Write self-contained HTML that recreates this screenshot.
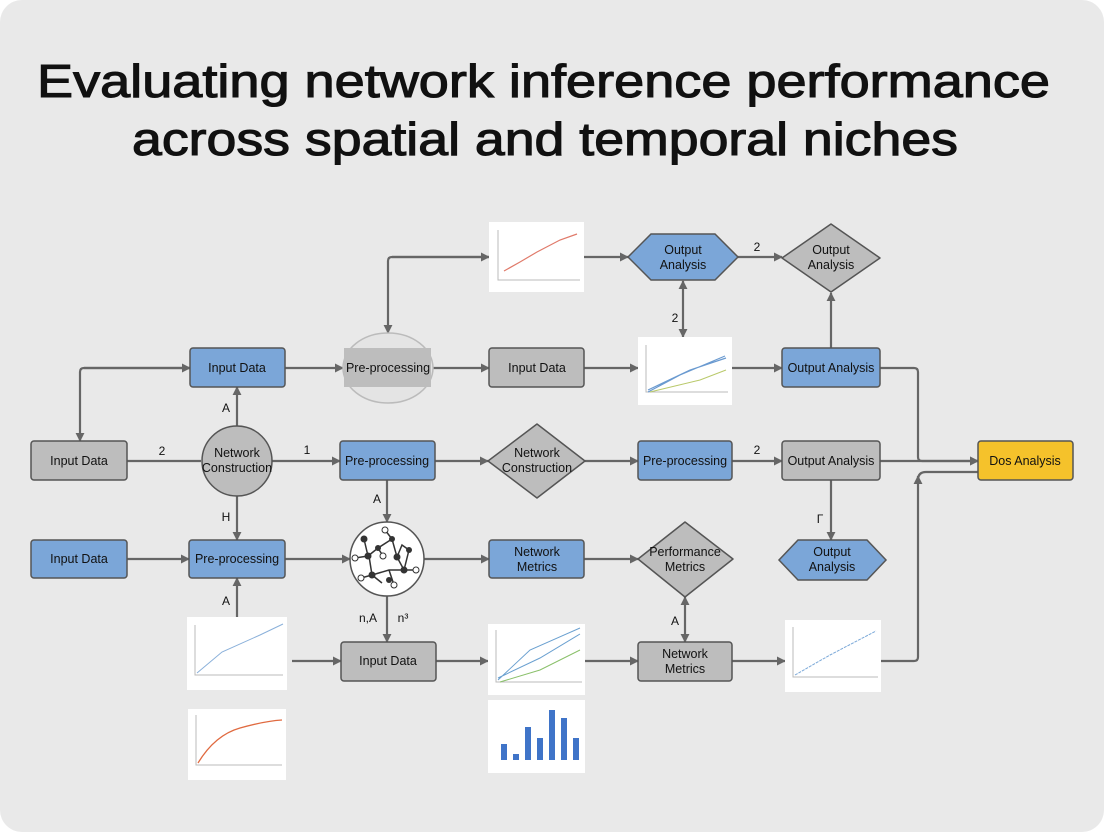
<!DOCTYPE html>
<html><head><meta charset="utf-8"><style>
html,body{margin:0;padding:0;background:#fff;}
svg{display:block;}
text{font-family:"Liberation Sans",sans-serif;}
</style></head><body>
<svg width="1104" height="832" viewBox="0 0 1104 832" xmlns="http://www.w3.org/2000/svg">
<defs>
<marker id="a" viewBox="0 0 10 10" refX="9" refY="5" markerWidth="9" markerHeight="9" markerUnits="userSpaceOnUse" orient="auto-start-reverse"><path d="M0,0L10,5L0,10z" fill="#666"/></marker>
</defs>
<rect x="0" y="0" width="1104" height="832" rx="22" fill="#e9e9e9"/>
<text x="37" y="97" font-size="46" fill="#111" stroke="#111" stroke-width="1.1" textLength="1013" lengthAdjust="spacingAndGlyphs">Evaluating network inference performance</text>
<text x="132" y="155" font-size="46" fill="#111" stroke="#111" stroke-width="1.1" textLength="826" lengthAdjust="spacingAndGlyphs">across spatial and temporal niches</text>

<g stroke="#666" stroke-width="2.2" fill="none">
<path d="M190,368H84Q80,368 80,372V441" marker-end="url(#a)"/>
<path d="M84,368H190" marker-end="url(#a)"/>
<path d="M127,461H201"/>
<path d="M272,461H340" marker-end="url(#a)"/>
<path d="M237,426V387" marker-end="url(#a)"/>
<path d="M237,496V540" marker-end="url(#a)"/>
<path d="M285,368H343" marker-end="url(#a)"/>
<path d="M431,368H489" marker-end="url(#a)"/>
<path d="M489,257H392Q388,257 388,261V333" marker-end="url(#a)"/>
<path d="M392,257H489" marker-end="url(#a)"/>
<path d="M584,368H638" marker-end="url(#a)"/>
<path d="M732,368H782" marker-end="url(#a)"/>
<path d="M831,348V293" marker-end="url(#a)"/>
<path d="M880,368H914Q918,368 918,372V457Q918,461 922,461H978" marker-end="url(#a)"/>
<path d="M584,257H628" marker-end="url(#a)"/>
<path d="M738,257H782" marker-end="url(#a)"/>
<path d="M683,281V337" marker-start="url(#a)" marker-end="url(#a)"/>
<path d="M435,461H488" marker-end="url(#a)"/>
<path d="M585,461H638" marker-end="url(#a)"/>
<path d="M732,461H782" marker-end="url(#a)"/>
<path d="M880,461H978" marker-end="url(#a)"/>
<path d="M831,480V540" marker-end="url(#a)"/>
<path d="M387,480V522" marker-end="url(#a)"/>
<path d="M127,559H189" marker-end="url(#a)"/>
<path d="M285,559H350" marker-end="url(#a)"/>
<path d="M424,559H489" marker-end="url(#a)"/>
<path d="M584,559H638" marker-end="url(#a)"/>
<path d="M237,617V578" marker-end="url(#a)"/>
<path d="M387,596V642" marker-end="url(#a)"/>
<path d="M292,661H341" marker-end="url(#a)"/>
<path d="M436,661H488" marker-end="url(#a)"/>
<path d="M585,661H638" marker-end="url(#a)"/>
<path d="M685,642V597" marker-start="url(#a)" marker-end="url(#a)"/>
<path d="M732,661H785" marker-end="url(#a)"/>
<path d="M881,661H914Q918,661 918,657V476" marker-end="url(#a)"/>
<path d="M918,480Q918,472 926,472H978"/>
</g>

<g font-size="12" fill="#111" text-anchor="middle">
<text x="162" y="455">2</text><text x="307" y="454">1</text>
<text x="226" y="412">A</text><text x="226" y="521">H</text>
<text x="757" y="251">2</text><text x="675" y="322">2</text>
<text x="757" y="454">2</text><text x="820" y="523">Γ</text>
<text x="377" y="503">A</text><text x="226" y="605">A</text>
<text x="368" y="622">n,A</text><text x="403" y="622">n³</text>
<text x="675" y="625">A</text>
</g>

<g stroke="#555" stroke-width="1.5">
<rect x="190" y="348" width="95" height="39" rx="3" fill="#7ba6d8"/>
<rect x="489" y="348" width="95" height="39" rx="3" fill="#bdbdbd"/>
<rect x="782" y="348" width="98" height="39" rx="3" fill="#7ba6d8"/>
<rect x="31" y="441" width="96" height="39" rx="3" fill="#bdbdbd"/>
<circle cx="237" cy="461" r="35" fill="#bdbdbd"/>
<rect x="340" y="441" width="95" height="39" rx="3" fill="#7ba6d8"/>
<path d="M537,424L585,461L537,498L488,461Z" fill="#bdbdbd" stroke-linejoin="round"/>
<rect x="638" y="441" width="94" height="39" rx="3" fill="#7ba6d8"/>
<rect x="782" y="441" width="98" height="39" rx="3" fill="#bdbdbd"/>
<rect x="978" y="441" width="95" height="39" rx="3" fill="#f5c22b"/>
<rect x="31" y="540" width="96" height="38" rx="3" fill="#7ba6d8"/>
<rect x="189" y="540" width="96" height="38" rx="3" fill="#7ba6d8"/>
<rect x="489" y="540" width="95" height="38" rx="3" fill="#7ba6d8"/>
<path d="M685,522L733,559L685,597L638,559Z" fill="#bdbdbd" stroke-linejoin="round"/>
<path d="M798,540H867L886,560L867,580H798L779,560Z" fill="#7ba6d8"/>
<path d="M651,234H715L738,257L715,280H651L628,257Z" fill="#7ba6d8"/>
<path d="M831,224L880,258L831,292L782,258Z" fill="#bdbdbd" stroke-linejoin="round"/>
<rect x="341" y="642" width="95" height="39" rx="3" fill="#bdbdbd"/>
<rect x="638" y="642" width="94" height="39" rx="3" fill="#bdbdbd"/>
</g>
<ellipse cx="388" cy="368" rx="45" ry="35" fill="#e4e4e4" stroke="#bbb" stroke-width="1.5"/>
<rect x="344" y="348" width="87" height="39" fill="#bdbdbd"/>
<circle cx="387" cy="559" r="37" fill="#fff" stroke="#555" stroke-width="1.5"/>
<g stroke="#333" stroke-width="1.5" fill="none">
<path d="M364,539L368,556L378,548L392,539L397,557L402,545L409,550L404,570L389,570L372,575L369,556M397,557L404,570M372,575L382,583M389,570L394,585M378,548L383,556M368,556L355,558M392,539L385,530M404,570L416,570M372,575L361,578"/>
</g>
<g fill="#333"><circle cx="364" cy="539" r="3.5"/><circle cx="368" cy="556" r="3.5"/><circle cx="378" cy="548" r="3"/><circle cx="392" cy="539" r="3"/><circle cx="397" cy="557" r="3.5"/><circle cx="409" cy="550" r="3"/><circle cx="404" cy="570" r="3.5"/><circle cx="372" cy="575" r="3.5"/><circle cx="389" cy="580" r="3"/></g>
<g fill="#fff" stroke="#333"><circle cx="355" cy="558" r="3"/><circle cx="383" cy="556" r="3"/><circle cx="385" cy="530" r="3"/><circle cx="361" cy="578" r="3"/><circle cx="394" cy="585" r="3"/><circle cx="416" cy="570" r="3"/></g>

<g font-size="12.5" fill="#111" text-anchor="middle">
<text x="237" y="372">Input Data</text>
<text x="388" y="372">Pre-processing</text>
<text x="537" y="372">Input Data</text>
<text x="831" y="372">Output Analysis</text>
<text x="79" y="465">Input Data</text>
<text x="237" y="457">Network</text><text x="237" y="472">Construction</text>
<text x="387" y="465">Pre-processing</text>
<text x="537" y="457">Network</text><text x="537" y="472">Construction</text>
<text x="685" y="465">Pre-processing</text>
<text x="831" y="465">Output Analysis</text>
<text x="1025" y="465">Dos Analysis</text>
<text x="79" y="563">Input Data</text>
<text x="237" y="563">Pre-processing</text>
<text x="537" y="556">Network</text><text x="537" y="571">Metrics</text>
<text x="685" y="556">Performance</text><text x="685" y="571">Metrics</text>
<text x="832" y="556">Output</text><text x="832" y="571">Analysis</text>
<text x="683" y="254">Output</text><text x="683" y="269">Analysis</text>
<text x="831" y="254">Output</text><text x="831" y="269">Analysis</text>
<text x="388" y="665">Input Data</text>
<text x="685" y="658">Network</text><text x="685" y="673">Metrics</text>
</g>

<g>
<rect x="489" y="222" width="95" height="70" fill="#fff"/>
<path d="M498,230V280H580" stroke="#bbb" fill="none"/>
<path d="M504,271L520,262L537,252L560,240L577,234" stroke="#e07a6a" fill="none" stroke-width="1.2"/>
<rect x="638" y="337" width="94" height="68" fill="#fff"/>
<path d="M646,345V392H728" stroke="#bbb" fill="none"/>
<path d="M648,392L680,375L725,356M648,390L690,370L726,358" stroke-width="1.2" fill="none" stroke="#6a9ad0"/>
<path d="M650,392L700,380L726,370" stroke="#b9c96a" fill="none"/>
<rect x="187" y="617" width="100" height="73" fill="#fff"/>
<path d="M195,625V675H283" stroke="#bbb" fill="none"/><path d="M197,673L222,652L260,635L283,624" stroke="#8ab0da" fill="none"/>
<rect x="188" y="709" width="98" height="71" fill="#fff"/>
<path d="M196,715V765H282" stroke="#bbb" fill="none"/><path d="M198,763Q215,735 240,728T282,720" stroke="#e06a40" fill="none" stroke-width="1.3"/>
<rect x="488" y="624" width="97" height="71" fill="#fff"/>
<path d="M496,630V682H582" stroke="#bbb" fill="none"/>
<path d="M498,680L530,650L580,628M498,678L540,658L580,634" stroke="#6aa0d0" fill="none"/>
<path d="M500,682L540,670L580,650" stroke="#8ac06a" fill="none"/>
<rect x="488" y="700" width="97" height="73" fill="#fff"/>
<g fill="#3f74c8"><rect x="501" y="744" width="6" height="16"/><rect x="513" y="754" width="6" height="6"/><rect x="525" y="727" width="6" height="33"/><rect x="537" y="738" width="6" height="22"/><rect x="549" y="710" width="6" height="50"/><rect x="561" y="718" width="6" height="42"/><rect x="573" y="738" width="6" height="22"/></g>
<rect x="785" y="620" width="96" height="72" fill="#fff"/>
<path d="M793,627V677H878" stroke="#bbb" fill="none"/><path d="M795,675L830,655L876,631" stroke="#7aa8d8" fill="none" stroke-dasharray="3,1"/>
</g>
</svg>
</body></html>
